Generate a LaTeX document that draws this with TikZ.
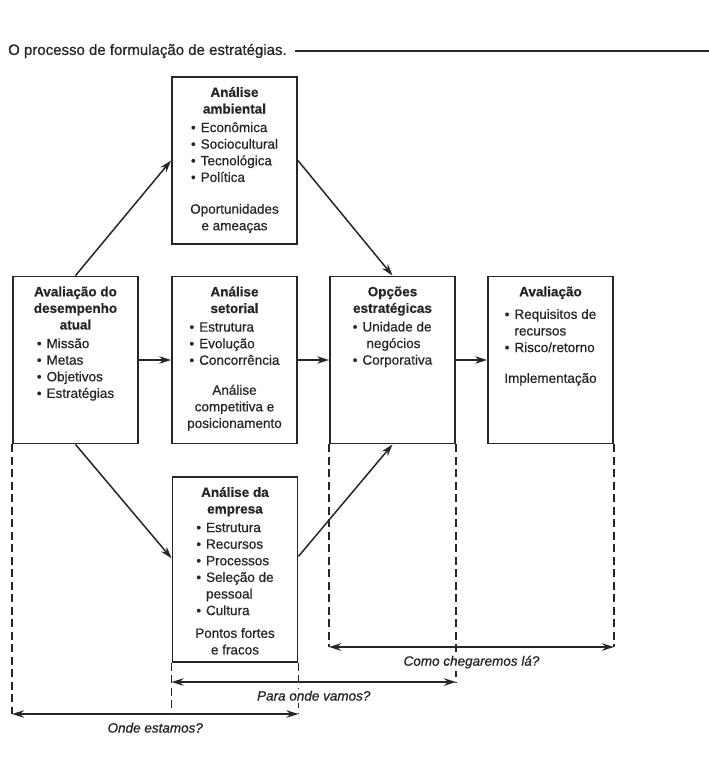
\documentclass[tikz,border=0pt]{standalone}
\usepackage{fontspec}
\setmainfont{Liberation Sans}[FakeBold=0.7]
\usetikzlibrary{calc,arrows.meta}

% texto das caixas: altura fixa, a partir do topo
\newcommand{\conteudo}[2]{\begin{minipage}[t][#1][t]{113pt}\vspace*{4pt}\centering #2\end{minipage}}
\newcommand{\lista}[1]{\begin{tabular}[t]{@{}l@{\hspace{5pt}}l@{}}#1\end{tabular}}

\begin{document}
\begin{tikzpicture}[x=1pt,y=-1pt,
    every node/.style={font=\fontsize{13.5}{16.6}\selectfont, text=black!85},
    bloco/.style={draw=black!85, line width=1.9pt, inner sep=6pt},
    seta/.style={draw=black!85, line width=1.5pt, -{Stealth[length=12pt,width=7.5pt]}},
    dupla/.style={draw=black!85, line width=1.5pt, {Stealth[length=12pt,width=7.5pt]}-{Stealth[length=12pt,width=7.5pt]}},
    tracejado/.style={draw=black!85, line width=1.6pt, dash pattern=on 8pt off 4.5pt},
    rotulo/.style={below=6pt, inner sep=2pt, fill=white, font=\fontsize{13.5}{16}\selectfont\itshape}]
    \useasboundingbox (0,0) rectangle (709,760);

    % titulo
    \node[anchor=west, inner sep=0pt, font=\fontsize{15}{18}\selectfont] (titulo) at (8,51) {O processo de formulação de estratégias.};
    \coordinate (borda) at (709,51);
    \draw[line width=1.6pt, black!85] ([xshift=8pt]titulo.east) -- (titulo.east -| borda);

    % caixas
    \node[bloco] (amb) at (234.5,160.5) {\conteudo{155pt}{\textbf{Análise}\\ \textbf{ambiental}\\[2pt]
        \lista{\textbullet & Econômica\\ \textbullet & Sociocultural\\ \textbullet & Tecnológica\\ \textbullet & Política}\\[16pt]
        Oportunidades\\ e ameaças}};
    \node[bloco] (desemp) at (75.5,360) {\conteudo{155pt}{\textbf{Avaliação do}\\ \textbf{desempenho}\\ \textbf{atual}\\[2pt]
        \lista{\textbullet & Missão\\ \textbullet & Metas\\ \textbullet & Objetivos\\ \textbullet & Estratégias}}};
    \node[bloco] (setor) at (234.5,360) {\conteudo{155pt}{\textbf{Análise}\\ \textbf{setorial}\\[2pt]
        \lista{\textbullet & Estrutura\\ \textbullet & Evolução\\ \textbullet & Concorrência}\\[14pt]
        Análise\\ competitiva e\\ posicionamento}};
    \node[bloco] (opc) at (392.5,360) {\conteudo{155pt}{\textbf{Opções}\\ \textbf{estratégicas}\\[2pt]
        \lista{\textbullet & Unidade de\\ & \hspace{4pt}negócios\\ \textbullet & Corporativa}}};
    \node[bloco] (aval) at (550.5,360) {\conteudo{155pt}{\textbf{Avaliação}\\[6pt]
        \lista{\textbullet & Requisitos de\\ & recursos\\ \textbullet & Risco/retorno}\\[15pt]
        Implementação}};
    \node[bloco] (emp) at (235,569.5) {\conteudo{173pt}{\textbf{Análise da}\\ \textbf{empresa}\\[2pt]
        \lista{\textbullet & Estrutura\\ \textbullet & Recursos\\ \textbullet & Processos\\ \textbullet & Seleção de\\ & pessoal\\ \textbullet & Cultura}\\[7pt]
        Pontos fortes\\ e fracos}};

    % setas
    \draw[seta] (desemp.north) -- (amb.west);
    \draw[seta] (amb.east) -- (opc.north);
    \draw[seta] (desemp) -- (setor);
    \draw[seta] (setor) -- (opc);
    \draw[seta] (opc) -- (aval);
    \draw[seta] (desemp.south) -- ($(emp.north west)!0.44!(emp.south west)$);
    \draw[seta] ($(emp.north east)!0.43!(emp.south east)$) -- (opc.south);

    % horizontes
    \coordinate (como) at (0,647);
    \coordinate (para) at (0,682);
    \coordinate (onde) at (0,714);
    \draw[tracejado] (desemp.south west) -- (desemp.south west |- onde);
    \draw[tracejado] (emp.south west) -- (emp.south west |- onde);
    \draw[tracejado] (emp.south east) -- (emp.south east |- onde);
    \draw[tracejado] (opc.south west) -- (opc.south west |- como);
    \draw[tracejado] (opc.south east) -- (opc.south east |- para);
    \draw[tracejado] (aval.south east) -- (aval.south east |- como);

    \draw[dupla] (opc.south west |- como) -- (aval.south east |- como) node[rotulo, midway] (lcomo) {Como chegaremos lá?};
    \draw[dupla] (emp.south west |- para) -- (opc.south east |- para) node[rotulo, midway] (lpara) {Para onde vamos?};
    \draw[dupla] (desemp.south west |- onde) -- (emp.south east |- onde) node[rotulo, midway] (londe) {Onde estamos?};
\end{tikzpicture}
\end{document}
